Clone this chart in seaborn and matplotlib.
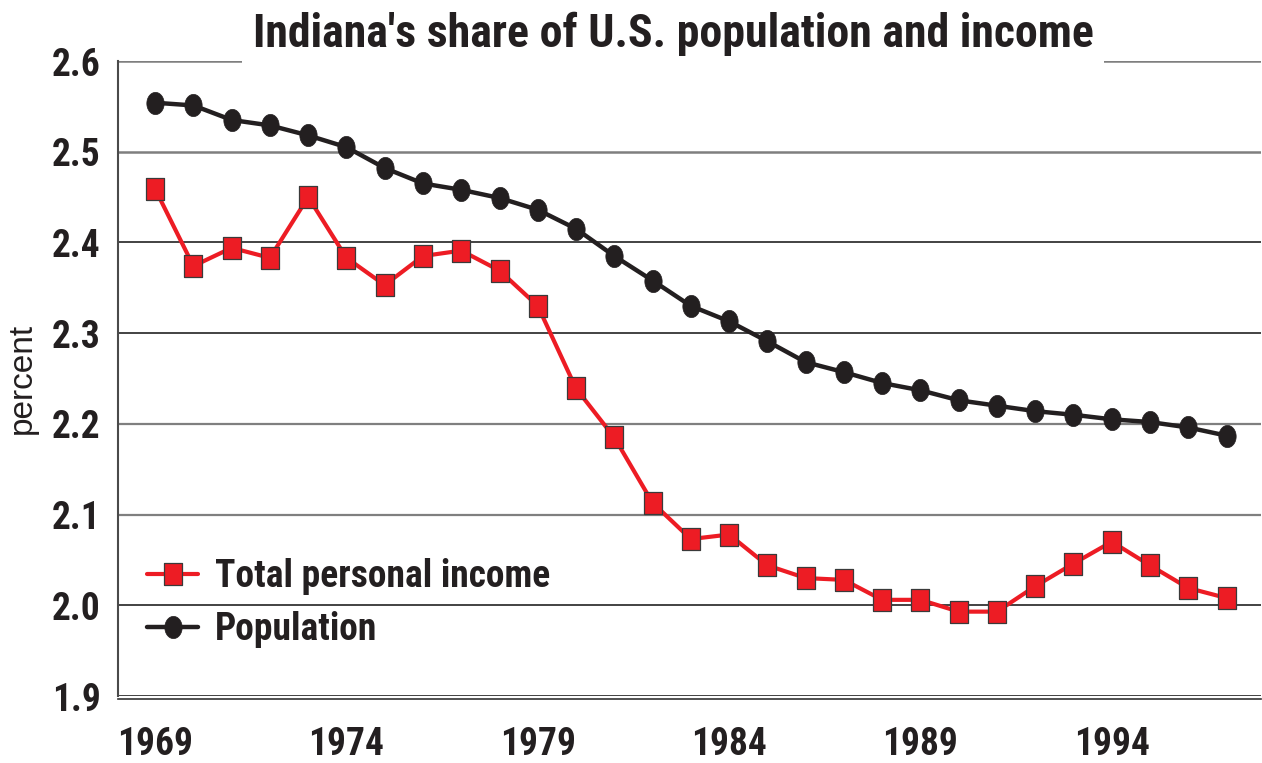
import numpy as np
import pandas as pd
import matplotlib
matplotlib.use("Agg")
import matplotlib.pyplot as plt
import seaborn as sns

# ---------------- data ----------------
years = list(range(1969, 1998))
income = [2.459, 2.374, 2.394, 2.383, 2.450, 2.383, 2.353, 2.385, 2.391, 2.369,
          2.330, 2.239, 2.185, 2.113, 2.073, 2.078, 2.044, 2.030, 2.028, 2.006,
          2.006, 1.993, 1.993, 2.021, 2.046, 2.070, 2.044, 2.019, 2.008]
population = [2.554, 2.551, 2.535, 2.529, 2.518, 2.505, 2.482, 2.465, 2.458, 2.449,
              2.436, 2.415, 2.385, 2.358, 2.330, 2.313, 2.291, 2.268, 2.257, 2.245,
              2.237, 2.226, 2.220, 2.214, 2.210, 2.205, 2.202, 2.196, 2.187]
x_ticks = [1969, 1974, 1979, 1984, 1989, 1994]
x_tick_labels = ["1969", "1974", "1979", "1984", "1989", "1994"]
y_ticks = [1.9, 2.0, 2.1, 2.2, 2.3, 2.4, 2.5, 2.6]
y_tick_labels = ["1.9", "2.0", "2.1", "2.2", "2.3", "2.4", "2.5", "2.6"]
series_names = ["Total personal income", "Population"]
title_text = "Indiana's share of U.S. population and income"
y_label = "percent"

df = pd.DataFrame({"year": years, "income": income, "population": population})

# ---------------- style ----------------
sns.set_style("white")
COND = ["Roboto Condensed", "PT Sans Narrow", "DejaVu Sans"]
plt.rcParams["font.family"] = COND
plt.rcParams["font.weight"] = "bold"

RED = "#ED1C24"
BLACK = "#231F20"

t = np.linspace(0, 2 * np.pi, 61)
ellipse = np.column_stack([0.39 * np.cos(t), 0.5 * np.sin(t)])
rect = np.array([[-0.39, -0.5], [0.39, -0.5], [0.39, 0.5], [-0.39, 0.5], [-0.39, -0.5]])

W, H = 1262, 763
fig = plt.figure(figsize=(W / 100, H / 100), dpi=100)
ax = fig.add_axes([118 / W, 1 - 696 / H, (1261 - 118) / W, (696 - 61) / H])

sns.lineplot(data=df, x="year", y="income", ax=ax, color=RED, lw=3.0,
             marker=rect, markersize=16, markerfacecolor=RED,
             markeredgecolor="#3a3a3a", markeredgewidth=0.9,
             label=series_names[0], zorder=3)
sns.lineplot(data=df, x="year", y="population", ax=ax, color=BLACK, lw=3.2,
             marker=ellipse, markersize=16, markerfacecolor=BLACK,
             markeredgecolor=BLACK, markeredgewidth=0.5,
             label=series_names[1], zorder=3)

ax.set_xlim(1968.03, 1997.9)
ax.set_ylim(1.9, 2.6)
ax.set_xticks(x_ticks, labels=x_tick_labels)
ax.set_yticks(y_ticks, labels=y_tick_labels)
ax.tick_params(axis="both", length=0, labelsize=27, labelcolor=BLACK)
ax.tick_params(axis="y", pad=12.5)
ax.tick_params(axis="x", pad=19)

ax.set_xlabel("")
ax.set_ylabel(y_label, family=["Liberation Sans", "DejaVu Sans"], fontsize=24,
              fontweight="normal", color=BLACK, labelpad=0)
ax.yaxis.set_label_coords(-80 / (1261 - 118), 0.5)

# grid lines
ax.yaxis.grid(True)
grid_colors = ["#222222", "#222222", "#7f7f7f", "#7f7f7f", "#222222", "#222222", "#7f7f7f", "#7f7f7f"]
grid_widths = [1.2, 1.2, 1.6, 1.6, 1.2, 1.2, 1.8, 1.8]
for gl, c, w in zip(ax.get_ygridlines(), grid_colors, grid_widths):
    gl.set_color(c)
    gl.set_linewidth(w)
ax.xaxis.grid(False)

for s in ["top", "right"]:
    ax.spines[s].set_visible(False)
ax.spines["left"].set_color("#4a4a4a")
ax.spines["left"].set_linewidth(1.5)
ax.spines["bottom"].set_color("#333333")
ax.spines["bottom"].set_linewidth(1.2)
ax.spines["bottom"].set_position(("outward", 2.5))

leg = ax.legend(loc="upper left", bbox_to_anchor=(147 / W, 1 - 558 / H),
                bbox_transform=fig.transFigure, frameon=False,
                prop={"family": COND, "weight": "bold", "size": 27},
                handlelength=1.36, handletextpad=0.45, labelspacing=0.42,
                borderpad=0, borderaxespad=0)
for txt in leg.get_texts():
    txt.set_color(BLACK)

fig.text(673 / W, 1 - 47 / H, title_text, ha="center", va="baseline",
         family=COND, fontsize=33, fontweight="bold", color=BLACK,
         bbox=dict(facecolor="white", edgecolor="none", pad=8))

fig.savefig("out.png", dpi=100, facecolor="white")
